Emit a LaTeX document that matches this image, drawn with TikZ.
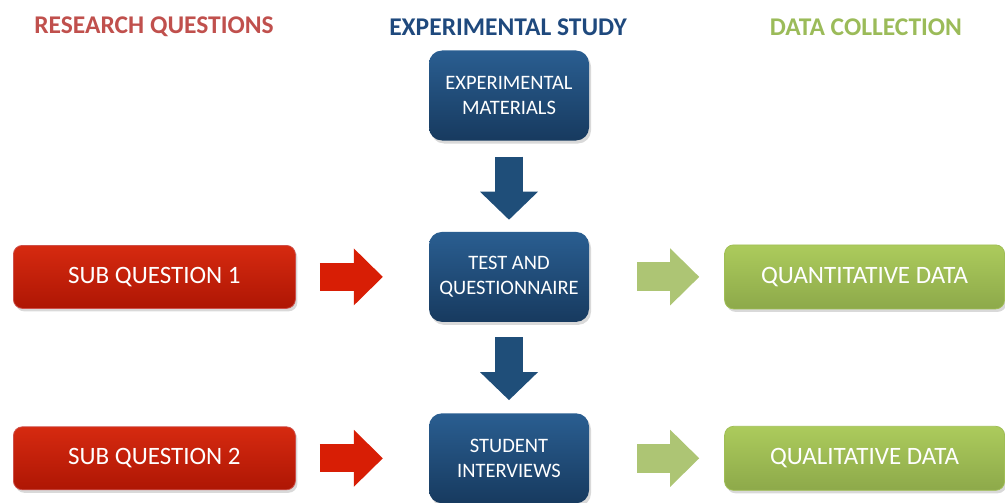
\documentclass[tikz,border=0pt]{standalone}
\usepackage{fontspec}
\setmainfont{Carlito}
\usetikzlibrary{positioning, shadows, arrows.meta, calc}
\definecolor{rqred}{HTML}{C0504D}
\definecolor{esblue}{HTML}{1F497D}
\definecolor{dcgreen}{HTML}{9BBB59}
\definecolor{arrred}{HTML}{D81E05}
\definecolor{arrblue}{HTML}{1F4E79}
\definecolor{arrgreen}{HTML}{ADC574}
\tikzset{
    title/.style={font=\fontsize{25.5}{30}\selectfont\bfseries},
    box/.style={rectangle, text=white, align=center, inner sep=0pt,
      drop shadow={shadow xshift=2pt, shadow yshift=-3pt, opacity=0.3}},
    subq/.style={box, rounded corners=9pt, minimum width=282pt, minimum height=63pt,
      top color={rgb,255:red,214;green,42;blue,16}, bottom color={rgb,255:red,174;green,22;blue,4},
      draw={rgb,255:red,205;green,80;blue,74}, line width=0.8pt,
      font=\fontsize{25}{30}\selectfont},
    study/.style={box, rounded corners=13pt, minimum width=160pt, minimum height=90pt,
      top color={rgb,255:red,42;green,94;blue,145}, bottom color={rgb,255:red,23;green,58;blue,95},
      font=\fontsize{20.5}{25}\selectfont},
    datab/.style={box, rounded corners=9pt, minimum width=280pt, minimum height=64pt,
      top color={rgb,255:red,172;green,203;blue,92}, bottom color={rgb,255:red,141;green,169;blue,74},
      draw={rgb,255:red,160;green,190;blue,85}, line width=0.8pt,
      font=\fontsize{25}{30}\selectfont},
    redarr/.style={draw=arrred, line width=28pt,
      -{Triangle[length=29pt, width=57pt, line width=0pt]}},
    bluearr/.style={draw=arrblue, line width=28pt,
      -{Triangle[length=28pt, width=58pt, line width=0pt]}},
    grnarr/.style={draw=arrgreen, line width=29pt,
      -{Triangle[length=29pt, width=57pt, line width=0pt]}},
}
\begin{document}
\begin{tikzpicture}[x=1pt, y=-1pt]
    \useasboundingbox (0,0) rectangle (1005,503);

    \node[title, text=rqred] (hq) at (154,27) {RESEARCH QUESTIONS};
    \node[title, text=esblue] (hs) at (508,27) {EXPERIMENTAL STUDY};
    \node[title, text=dcgreen] (hd) at (866,27) {DATA COLLECTION};

    \node[study] (em) at (509,95.5) {EXPERIMENTAL\\MATERIALS};
    \node[study, below=91pt of em] (tq) {TEST AND\\QUESTIONNAIRE};
    \node[study, below=91pt of tq] (si) {STUDENT\\INTERVIEWS};

    \node[subq, left=133pt of tq] (q1) {SUB QUESTION 1};
    \node[subq, left=133pt of si] (q2) {SUB QUESTION 2};

    \node[datab, right=135pt of tq] (d1) {QUANTITATIVE DATA};
    \node[datab, right=135pt of si] (d2) {QUALITATIVE DATA};

    \draw[bluearr, shorten <=16pt, shorten >=12pt] (em) -- (tq);
    \draw[bluearr, shorten <=15pt, shorten >=13pt] (tq) -- (si);

    \draw[redarr, shorten <=24pt, shorten >=46pt] (q1) -- (tq);
    \draw[redarr, shorten <=24pt, shorten >=46pt] (q2) -- (si);

    \draw[grnarr, shorten <=48pt, shorten >=25pt] (tq) -- (d1);
    \draw[grnarr, shorten <=48pt, shorten >=25pt] (si) -- (d2);
\end{tikzpicture}
\end{document}
